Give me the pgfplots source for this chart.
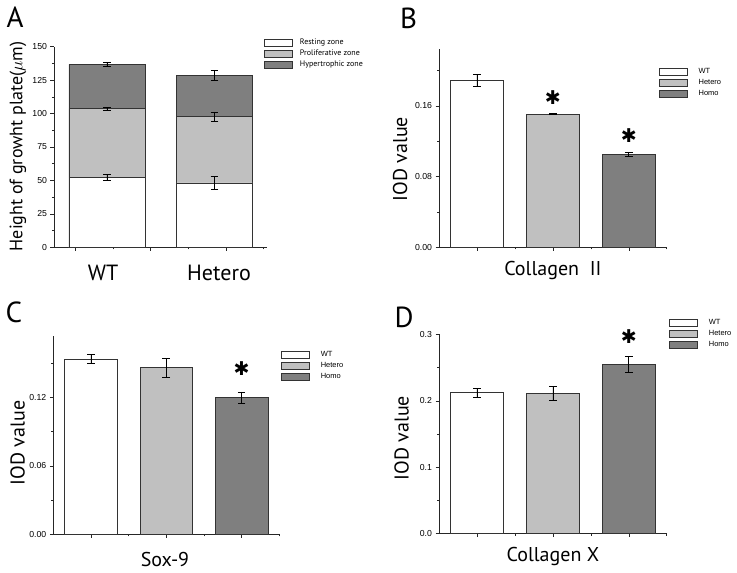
\documentclass[border=0pt]{standalone}
\usepackage{fontspec}
\usepackage{pgfplots}
\pgfplotsset{compat=1.18}
\setmainfont{PT Sans}
\newfontfamily\arialf{Liberation Sans}
\newfontfamily\symf{DejaVu Sans}
\definecolor{cwt}{HTML}{FFFFFF}
\definecolor{chet}{HTML}{C0C0C0}
\definecolor{chom}{HTML}{7F7F7F}
\definecolor{cedge}{HTML}{333333}
\newcommand{\ticksz}{\arialf\fontsize{8.7}{9}\selectfont}
\newcommand{\labsz}{\fontsize{20}{22}\selectfont}
\newcommand{\panel}{\fontsize{29}{31}\selectfont}
\tikzset{sig/.style={font=\symf\fontsize{19}{19}\selectfont, inner sep=0pt}}

\pgfplotsset{
  every axis/.append style={
    scale only axis,
    axis x line*=bottom, axis y line*=left,
    axis line style={line width=0.6pt, black!85},
    tick align=outside,
    tick style={line width=0.5pt, black!85},
    major tick length=3.5pt, minor tick length=2pt,
    tick label style={font=\ticksz},
    /pgf/number format/assume math mode=true,
    xticklabels={},
    label style={font=\labsz},
    legend cell align=left,
    legend style={draw=none, fill=none, inner sep=0pt, row sep=3.6pt,
      column sep=0pt,
      nodes={inner sep=0pt, text height=5pt, text depth=1.5pt}},
  },
  boxleg/.style={legend image code/.code={
      \draw[##1] (0pt,-3.3pt) rectangle (28pt,3.3pt);}},
  bar/.style={ybar, bar shift=0pt, draw=cedge, line width=0.7pt, fill=#1,
    boxleg,
    error bars/.cd, y dir=both, y explicit,
    error bar style={line width=0.6pt, black},
    error mark options={rotate=90, mark size=3.8pt, line width=0.6pt, black}},
}

\begin{document}
\begin{tikzpicture}
\path[use as bounding box] (0pt,0pt) rectangle (737pt,573pt);

% ---- A: stacked heights, drawn as cumulative bars
\begin{axis}[at={(54pt,325.7pt)}, anchor=south west,
  width=213pt, height=200.6pt, clip=false,
  xmin=0, xmax=213, ymin=0, ymax=150,
  ytick={0,25,...,150}, minor y tick num=1,
  xtick={21,96,172}, minor xtick={59,134,209},
  ylabel={Height of growht plate($\mu$m)},
  ylabel style={at={(axis description cs:-0.169,0.503)}, anchor=center,
    font=\fontsize{18}{20}\selectfont},
  reverse legend,
  legend style={at={(0.986,1.038)}, anchor=north west,
    font=\fontsize{8}{9}\selectfont, column sep=7pt},
  bar width=76]
\addplot[bar=chom] coordinates {(53,136.8) +- (0,1.8) (160.5,128.6) +- (0,3.4)};
\addplot[bar=chet] coordinates {(53,103.6) +- (0,1.0) (160.5,97.9) +- (0,3.4)};
\addplot[bar=cwt] coordinates {(53,52.3) +- (0,2.4) (160.5,48.1) +- (0,5.1)};
\legend{Hypertrophic zone,Proliferative zone,Resting zone}
\node[font=\fontsize{22}{24}\selectfont, yshift=-26pt] at (axis cs:49,0) {WT};
\node[font=\fontsize{22}{24}\selectfont, yshift=-26pt] at (axis cs:165,0) {Hetero};
\end{axis}

% ---- B: Collagen II
\begin{axis}[at={(439pt,325.7pt)}, anchor=south west,
  width=227.7pt, height=198pt,
  xmin=-0.5, xmax=2.5, ymin=0, ymax=0.224,
  ytick={0,0.08,0.16}, yticklabels={0.00,0.08,0.16},
  minor ytick={0.04,0.12,0.20},
  xtick={0,1,2}, minor xtick={0.5,1.5,2.5},
  ylabel={IOD value},
  ylabel style={at={(axis description cs:-0.171,0.446)}, anchor=center},
  xlabel={Collagen\ \ II},
  xlabel style={at={(axis description cs:0.5,-0.115)}, anchor=center},
  legend style={at={(0.965,0.906)}, anchor=north west,
    font=\arialf\fontsize{7.5}{8}\selectfont, column sep=11pt},
  bar width=0.7]
\addplot[bar=cwt] coordinates {(0,0.189) +- (0,0.0068)};
\addplot[bar=chet] coordinates {(1,0.1505) +- (0,0.0006)};
\addplot[bar=chom] coordinates {(2,0.1052) +- (0,0.0023)};
\legend{WT,Hetero,Homo}
\node[sig, yshift=16.6pt] at (axis cs:1,0.1505) {✱};
\node[sig, yshift=18.3pt] at (axis cs:2,0.1052) {✱};
\end{axis}

% ---- C: Sox-9
\begin{axis}[at={(53.3pt,38.7pt)}, anchor=south west,
  width=226pt, height=198.6pt,
  xmin=-0.5, xmax=2.5, ymin=0, ymax=0.174,
  ytick={0,0.06,0.12}, yticklabels={0.00,0.06,0.12},
  minor ytick={0.03,0.09,0.15},
  xtick={0,1,2}, minor xtick={0.5,1.5,2.5},
  ylabel={IOD value},
  ylabel style={at={(axis description cs:-0.158,0.46)}, anchor=center},
  xlabel={Sox-9},
  xlabel style={at={(axis description cs:0.494,-0.129)}, anchor=center},
  legend style={at={(1.007,0.923)}, anchor=north west,
    font=\arialf\fontsize{7.5}{8}\selectfont, column sep=11pt},
  bar width=0.7]
\addplot[bar=cwt] coordinates {(0,0.1536) +- (0,0.0037)};
\addplot[bar=chet] coordinates {(1,0.1459) +- (0,0.008)};
\addplot[bar=chom] coordinates {(2,0.1197) +- (0,0.005)};
\legend{WT,Hetero,Homo}
\node[sig, yshift=28.7pt] at (axis cs:2,0.1197) {✱};
\end{axis}

% ---- D: Collagen X
\begin{axis}[at={(439pt,39.3pt)}, anchor=south west,
  width=227.7pt, height=199.4pt, clip=false,
  xmin=-0.5, xmax=2.5, ymin=0, ymax=0.3,
  ytick={0,0.1,0.2,0.3}, yticklabels={0.0,0.1,0.2,0.3},
  minor ytick={0.05,0.15,0.25},
  xtick={0,1,2}, minor xtick={0.5,1.5,2.5},
  ylabel={IOD value},
  ylabel style={at={(axis description cs:-0.164,0.48)}, anchor=center},
  xlabel={Collagen X},
  xlabel style={at={(axis description cs:0.5,-0.115)}, anchor=center},
  legend style={at={(1.01,1.077)}, anchor=north west,
    font=\arialf\fontsize{7.5}{8}\selectfont, column sep=11pt},
  bar width=0.7]
\addplot[bar=cwt] coordinates {(0,0.212) +- (0,0.007)};
\addplot[bar=chet] coordinates {(1,0.2111) +- (0,0.011)};
\addplot[bar=chom] coordinates {(2,0.2547) +- (0,0.0123)};
\legend{WT,Hetero,Homo}
\node[sig, yshift=27.6pt] at (axis cs:2,0.2547) {✱};
\end{axis}

\node[font=\panel] at (15pt,556pt) {A};
\node[font=\panel] at (408.5pt,554.5pt) {B};
\node[font=\panel] at (14pt,260.5pt) {C};
\node[font=\panel] at (404pt,255.5pt) {D};
\end{tikzpicture}
\end{document}
